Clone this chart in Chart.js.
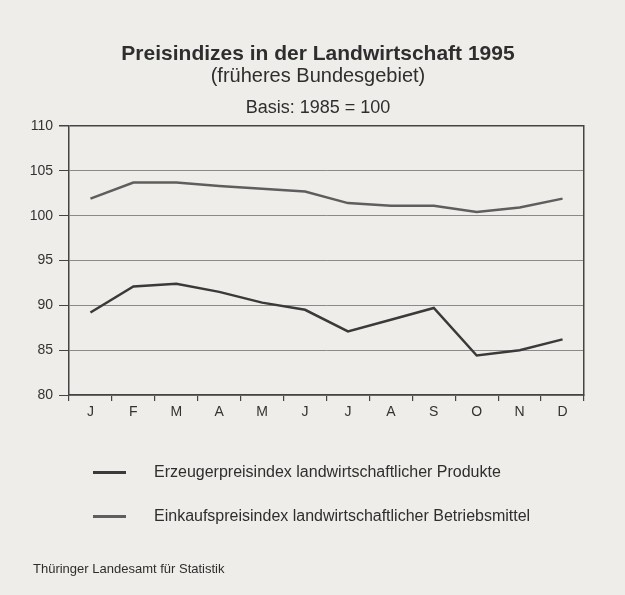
<!DOCTYPE html>
<html>
<head>
<meta charset="utf-8">
<script src="https://cdn.jsdelivr.net/npm/chart.js@4"></script>
<style>
  html, body { margin: 0; padding: 0; background: #eeede9; }
  #wrap { position: relative; width: 625px; height: 595px; font-family: "Liberation Sans", Arial, sans-serif; color: #2e2e2e; }
  #chart { position: absolute; left: 0; top: 0; }
  .t { position: absolute; left: 0; width: 636px; text-align: center; line-height: 1; white-space: nowrap; }
  .leg { position: absolute; left: 93px; font-size: 16px; line-height: 1; white-space: nowrap; }
  .leg span { display: inline-block; width: 33px; height: 3px; vertical-align: middle; margin-right: 28px; }
  #foot { position: absolute; left: 33px; top: 562px; font-size: 13px; line-height: 1; }
</style>
</head>
<body>
<div id="wrap">
  <canvas id="chart" width="625" height="595"></canvas>
  <div class="t" style="top:42px;font-size:21px;font-weight:bold;">Preisindizes in der Landwirtschaft 1995</div>
  <div class="t" style="top:65px;font-size:20px;">(früheres Bundesgebiet)</div>
  <div class="t" style="top:98px;font-size:18px;">Basis: 1985 = 100</div>
  <div class="leg" style="top:464px;"><span style="background:#3a3a3a"></span>Erzeugerpreisindex landwirtschaftlicher Produkte</div>
  <div class="leg" style="top:508px;"><span style="background:#5e5e5e"></span>Einkaufspreisindex landwirtschaftlicher Betriebsmittel</div>
  <div id="foot">Thüringer Landesamt für Statistik</div>
</div>
<script>
// Monate 1995
const months = ['J', 'F', 'M', 'A', 'M', 'J', 'J', 'A', 'S', 'O', 'N', 'D'];
// Erzeugerpreisindex landwirtschaftlicher Produkte
const erzeuger = [89.2, 92.1, 92.4, 91.5, 90.3, 89.5, 87.1, 88.4, 89.7, 84.4, 85.0, 86.2];
// Einkaufspreisindex landwirtschaftlicher Betriebsmittel
const einkauf = [101.9, 103.7, 103.7, 103.3, 103.0, 102.7, 101.4, 101.1, 101.1, 100.4, 100.9, 101.9];
const yMin = 80, yMax = 110, yStep = 5;

const ctx = document.getElementById('chart').getContext('2d');
const chart = new Chart(ctx, {
    type: 'line',
    data: {
        labels: months,
        datasets: [
            { label: 'Erzeuger', data: erzeuger, borderColor: '#3a3a3a', borderWidth: 2.5, pointRadius: 0, tension: 0 },
            { label: 'Einkauf', data: einkauf, borderColor: '#5e5e5e', borderWidth: 2.5, pointRadius: 0, tension: 0 }
        ]
    },
    options: {
        responsive: false,
        animation: false,
        layout: { padding: { left: 0, top: 126, right: 41, bottom: 0 } },
        plugins: { legend: { display: false }, tooltip: { enabled: false } },
        scales: {
            x: {
                offset: true,
                grid: { offset: true, drawOnChartArea: false, tickLength: 6, color: '#444', lineWidth: 1.2 },
                border: { color: '#444', width: 1.5 },
                ticks: { color: '#333', font: { family: 'Liberation Sans', size: 14 }, padding: 3 },
                afterFit: s => { s.height = 200; }
            },
            y: {
                min: yMin, max: yMax,
                grid: {
                    color: c => c.tick && c.tick.value === yMax ? '#444' : '#8a8a8a',
                    lineWidth: c => c.tick && c.tick.value === yMax ? 1.5 : 1,
                    tickLength: 10,
                    tickColor: '#444'
                },
                border: { color: '#444', width: 1.5 },
                ticks: { stepSize: yStep, color: '#333', font: { family: 'Liberation Sans', size: 14 }, padding: 6 },
                afterFit: s => { s.width = 69; }
            },
            yRight: {
                position: 'right',
                min: yMin, max: yMax,
                grid: { display: false },
                border: { color: '#444', width: 1.5 },
                ticks: { display: false },
                afterFit: s => { s.width = 0; }
            }
        }
    }
});
</script>
</body>
</html>
